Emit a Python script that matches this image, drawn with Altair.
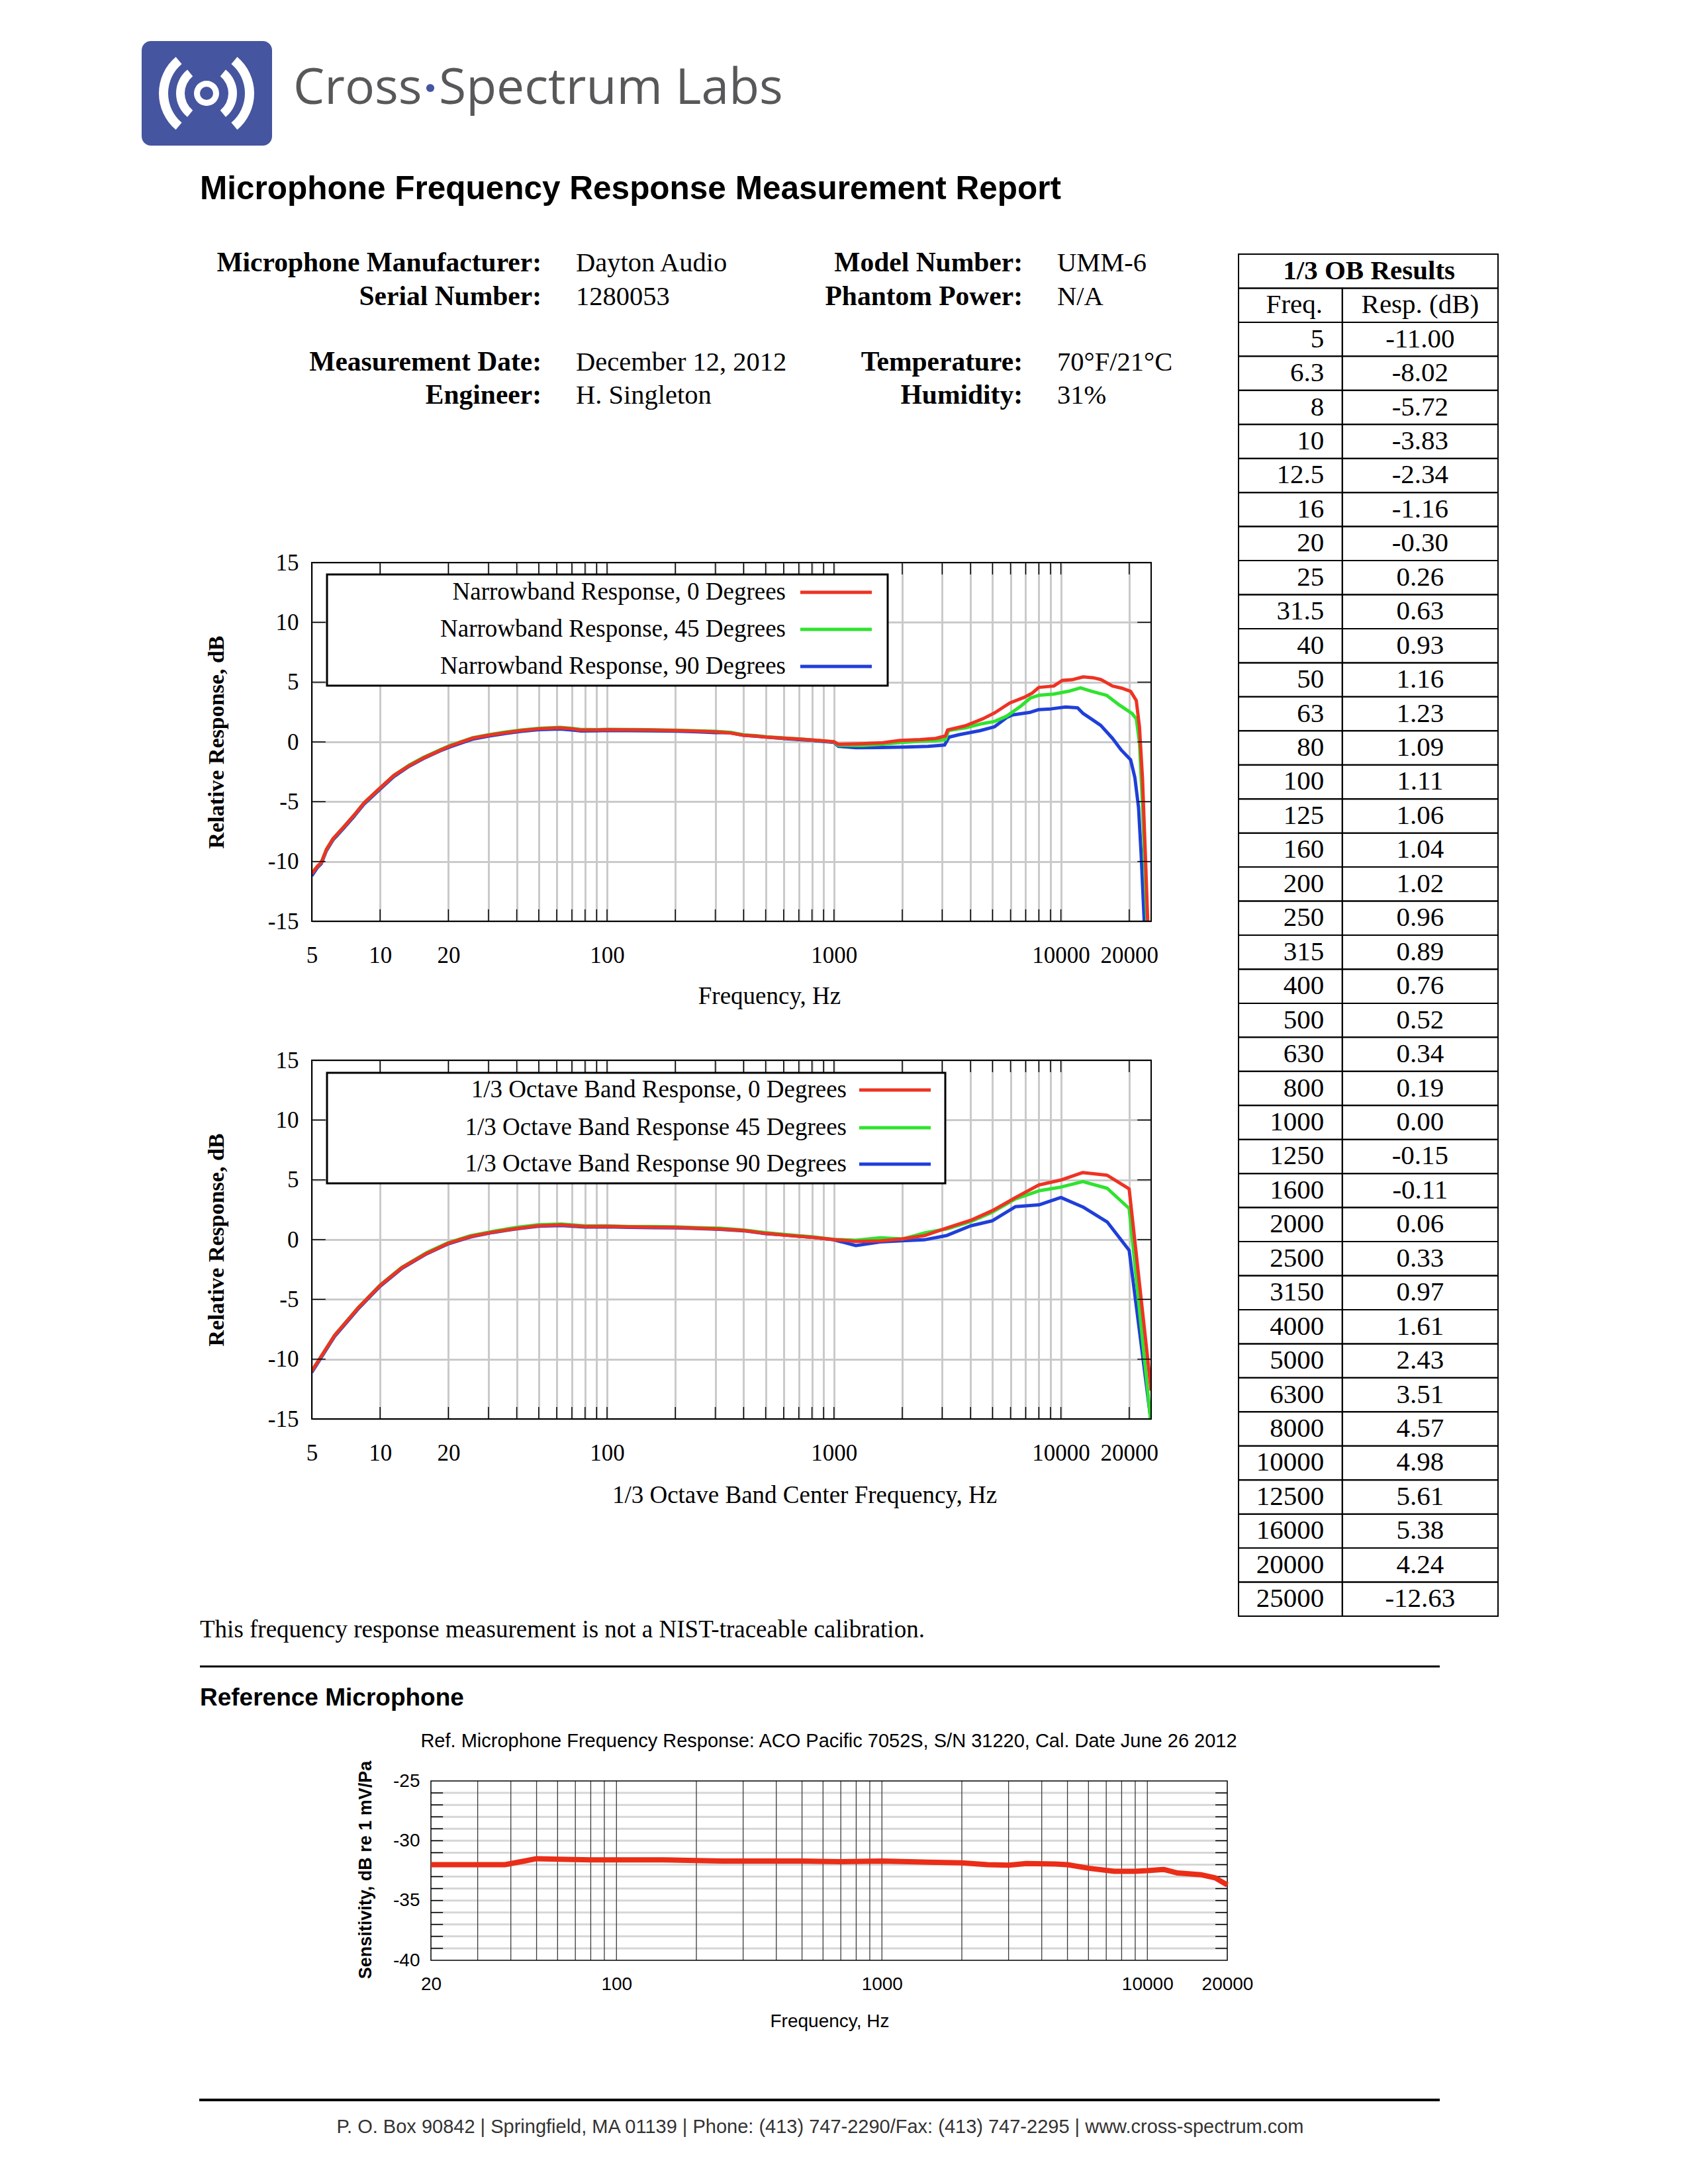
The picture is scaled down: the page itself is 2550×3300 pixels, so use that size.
import altair as alt
import pandas as pd

SERIF = "Liberation Serif"
SANS = "Liberation Sans"
RED, GREEN, BLUE = "#ee3323", "#2fe32f", "#1f3fd9"
GRID = "#cacaca"
LOGO_BLUE = "#46559f"

# ---------------- narrowband response (chart 1) ----------------
NB0_F = [5, 5.3, 5.5, 5.8, 6.2, 7, 7.7, 8.5, 10, 11.5, 13.4, 15.5, 18.4, 20.3, 25.4, 30, 35, 42, 50, 62,
         70, 76, 90, 100, 150, 200, 250, 300, 350, 400, 450, 505, 630, 705, 850, 1000, 1046, 1330, 1640, 1960,
         2400, 2810, 3100, 3170, 3790, 4530, 5100, 5950, 6900, 7500, 8000, 9300, 10180, 11200, 12550,
         14000, 15000, 16900, 18500, 20300, 21500, 22200, 22900, 23600, 24300]
NB0_DB = [-11.0, -10.4, -10.1, -9.0, -8.1, -7.0, -6.1, -5.1, -3.85, -2.8, -2.0, -1.35, -0.7, -0.35, 0.3, 0.55, 0.75, 0.95, 1.1, 1.18,
          1.1, 1.0, 1.0, 1.02, 1.0, 0.95, 0.9, 0.85, 0.75, 0.55, 0.5, 0.4, 0.29, 0.23, 0.12, 0.02, -0.2, -0.15, -0.07, 0.13,
          0.2, 0.29, 0.5, 1.0, 1.34, 1.93, 2.42, 3.25, 3.73, 4.1, 4.56, 4.67, 5.15, 5.2, 5.44,
          5.35, 5.22, 4.67, 4.5, 4.23, 3.46, 1.27, -3.1, -9.7, -16.5]

NB45_F = [5, 5.3, 5.5, 5.8, 6.2, 7, 7.7, 8.5, 10, 11.5, 13.4, 15.5, 18.4, 20.3, 25.4, 30, 35, 42, 50, 62,
          70, 76, 90, 100, 150, 200, 250, 300, 350, 400, 450, 505, 630, 705, 850, 1000, 1046, 1330, 1640, 1960,
          2400, 2810, 3100, 3200, 3790, 4530, 5100, 5770, 6700, 7350, 8000, 9300, 10800, 12200, 13700,
          15900, 17900, 20600, 21500, 22200, 22900, 23600, 24300]
NB45_DB = [-11.0, -10.4, -10.1, -9.0, -8.1, -7.0, -6.1, -5.1, -3.85, -2.8, -1.95, -1.3, -0.65, -0.3, 0.33, 0.6, 0.8, 1.0, 1.13, 1.22,
           1.14, 1.05, 1.03, 1.05, 1.03, 0.98, 0.93, 0.88, 0.8, 0.6, 0.53, 0.43, 0.31, 0.25, 0.13, 0.0, -0.28, -0.3, -0.2, -0.05,
           0.05, 0.1, 0.2, 0.95, 1.17, 1.54, 1.71, 2.15, 3.03, 3.68, 3.9, 4.0, 4.23, 4.52, 4.23,
           3.9, 3.15, 2.37, 1.93, -0.04, -5.3, -11.9, -18.0]

NB90_F = [5, 5.3, 5.5, 5.8, 6.2, 7, 7.7, 8.5, 10, 11.5, 13.4, 15.5, 18.4, 20.3, 25.4, 30, 35, 42, 50, 62,
          70, 76, 90, 100, 150, 200, 250, 300, 345, 400, 466, 630, 800, 1000, 1046, 1252, 1600, 2084, 2600, 3073,
          3218, 3570, 4404, 5106, 5770, 6121, 7350, 8000, 9040, 10500, 11850, 12550, 13700, 15000, 16900,
          18500, 20300, 21200, 22000, 22600, 23300, 23800]
NB90_DB = [-11.2, -10.5, -10.2, -9.1, -8.2, -7.1, -6.2, -5.2, -3.95, -2.9, -2.05, -1.4, -0.75, -0.42, 0.22, 0.48, 0.68, 0.88, 1.02, 1.08,
           1.0, 0.92, 0.93, 0.95, 0.93, 0.9, 0.85, 0.78, 0.79, 0.55, 0.45, 0.25, 0.12, -0.04, -0.37, -0.48, -0.47, -0.43, -0.38, -0.26,
           0.4, 0.61, 0.94, 1.27, 2.04, 2.26, 2.48, 2.7, 2.76, 2.92, 2.85, 2.37, 1.89, 1.38, 0.29,
           -0.7, -1.5, -3.0, -5.5, -9.5, -15.0, -18.0]

# ---------------- 1/3 octave band results (chart 2 + table) ----------------
OB_LABELS = ["5", "6.3", "8", "10", "12.5", "16", "20", "25", "31.5", "40", "50", "63", "80", "100", "125",
             "160", "200", "250", "315", "400", "500", "630", "800", "1000", "1250", "1600", "2000", "2500",
             "3150", "4000", "5000", "6300", "8000", "10000", "12500", "16000", "20000", "25000"]
OB_FREQ = [5, 6.3, 8, 10, 12.5, 16, 20, 25, 31.5, 40, 50, 63, 80, 100, 125,
           160, 200, 250, 315, 400, 500, 630, 800, 1000, 1250, 1600, 2000, 2500,
           3150, 4000, 5000, 6300, 8000, 10000, 12500, 16000, 20000, 25000]
OB_0 = [-11.00, -8.02, -5.72, -3.83, -2.34, -1.16, -0.30, 0.26, 0.63, 0.93, 1.16, 1.23, 1.09, 1.11, 1.06,
        1.04, 1.02, 0.96, 0.89, 0.76, 0.52, 0.34, 0.19, 0.00, -0.15, -0.11, 0.06, 0.33,
        0.97, 1.61, 2.43, 3.51, 4.57, 4.98, 5.61, 5.38, 4.24, -12.63]
OB_45 = [-11.0, -8.0, -5.7, -3.8, -2.3, -1.1, -0.25, 0.32, 0.7, 1.02, 1.25, 1.3, 1.15, 1.15, 1.1,
         1.09, 1.07, 1.0, 0.95, 0.8, 0.58, 0.4, 0.24, 0.02, -0.05, 0.15, 0.05, 0.55,
         0.9, 1.5, 2.3, 3.4, 4.08, 4.39, 4.85, 4.29, 2.6, -15.5]
OB_90 = [-11.1, -8.1, -5.8, -3.9, -2.4, -1.2, -0.35, 0.22, 0.6, 0.9, 1.12, 1.18, 1.05, 1.07, 1.03,
         1.0, 0.98, 0.93, 0.86, 0.74, 0.5, 0.36, 0.2, -0.02, -0.5, -0.2, -0.1, -0.02,
         0.35, 1.15, 1.58, 2.75, 2.9, 3.52, 2.73, 1.48, -0.9, -15.3]

# ---------------- reference microphone ----------------
REF_F = [20, 30, 38, 45, 50, 60, 80, 100, 150, 200, 250, 300, 500, 700, 1000, 1500, 2000, 2500, 3000,
         3500, 4500, 5000, 6000, 7500, 9000, 10000, 11500, 13000, 16000, 18000, 20000]
REF_DB = [-32.0, -32.0, -32.0, -31.7, -31.5, -31.55, -31.6, -31.6, -31.6, -31.65, -31.7, -31.7, -31.7, -31.75, -31.7,
          -31.8, -31.85, -32.0, -32.05, -31.9, -31.95, -32.0, -32.3, -32.55, -32.55, -32.5, -32.4, -32.7, -32.85,
          -33.1, -33.7]

XGRID = [10, 20, 30, 40, 50, 60, 70, 80, 90, 100, 200, 300, 400, 500, 600, 700, 800, 900,
         1000, 2000, 3000, 4000, 5000, 6000, 7000, 8000, 9000, 10000, 20000]
XLAB = [5, 10, 20, 100, 1000, 10000, 20000]
YTICKS = [-15, -10, -5, 0, 5, 10, 15]
REF_XGRID = [30, 40, 50, 60, 70, 80, 90, 100, 200, 300, 400, 500, 600, 700, 800, 900,
             1000, 2000, 3000, 4000, 5000, 6000, 7000, 8000, 9000, 10000]
REF_XLAB = [20, 100, 1000, 10000, 20000]
REF_YLAB = [-40, -35, -30, -25]

INFO_L_LAB = ["Microphone Manufacturer:", "Serial Number:", "Measurement Date:", "Engineer:"]
INFO_L_VAL = ["Dayton Audio", "1280053", "December 12, 2012", "H. Singleton"]
INFO_R_LAB = ["Model Number:", "Phantom Power:", "Temperature:", "Humidity:"]
INFO_R_VAL = ["UMM-6", "N/A", "70°F/21°C", "31%"]

LEG1 = ["Narrowband Response, 0 Degrees", "Narrowband Response, 45 Degrees", "Narrowband Response, 90 Degrees"]
LEG2 = ["1/3 Octave Band Response, 0 Degrees", "1/3 Octave Band Response 45 Degrees", "1/3 Octave Band Response 90 Degrees"]

ONE = pd.DataFrame({"k": [0]})
PW, PH = 1268, 542


def txt(s, x, y, size, font=SERIF, weight="normal", align="left", color="black", baseline="alphabetic"):
    return alt.Chart(ONE).mark_text(text=s, font=font, fontSize=size, fontWeight=weight, align=align,
                                    baseline=baseline, color=color).encode(x=alt.value(x), y=alt.value(y))


def hline(x1, x2, y, w, color="black"):
    return alt.Chart(ONE).mark_rule(color=color, strokeWidth=w).encode(
        x=alt.value(x1), x2=alt.value(x2), y=alt.value(y))


def freq_plot(series, leg_texts, box, text_right, line_x, rows_y, x_title, title_x, title_y):
    xs = alt.Scale(type="log", domain=[5, 25000], nice=False)
    ys = alt.Scale(domain=[-15, 15], nice=False, zero=False)
    ax = alt.Axis(values=[5] + XGRID, grid=True, gridColor=GRID, gridWidth=3, ticks=False, domain=False,
                  labelExpr="indexof(%s, datum.value) >= 0 ? '' + datum.value : ''" % XLAB,
                  labelFont=SERIF, labelFontSize=35, labelPadding=34, labelOverlap=False, labelFlush=False,
                  labelBound=False, labelColor="black",
                  title=x_title, titleFont=SERIF, titleFontSize=37, titleFontWeight="normal",
                  titleX=title_x, titleY=title_y, titleAlign="center", titleBaseline="middle", titleColor="black")
    ay = alt.Axis(values=YTICKS, grid=True, gridColor=GRID, gridWidth=3, ticks=False, domain=False,
                  labelExpr="'' + datum.value", labelFont=SERIF, labelFontSize=35, labelPadding=20,
                  labelColor="black",
                  title="Relative Response, dB", titleFont=SERIF, titleFontSize=34, titleFontWeight="bold",
                  titleX=-144, titleY=PH / 2, titleAngle=270, titleAlign="center", titleBaseline="middle",
                  titleColor="black")
    X = alt.X("f:Q", scale=xs, axis=ax)
    Y = alt.Y("v:Q", scale=ys, axis=ay)

    tv = pd.DataFrame({"f": XGRID + XGRID, "v": [15] * len(XGRID) + [-15] * len(XGRID),
                       "v2": [14.0] * len(XGRID) + [-14.0] * len(XGRID)})
    inner = [-10, -5, 0, 5, 10]
    th = pd.DataFrame({"f": [5] * 5 + [21740] * 5, "f2": [5.75] * 5 + [25000] * 5, "v": inner + inner})
    border = pd.DataFrame({"f": [5], "f2": [25000], "v": [-15], "v2": [15]})

    layers = []
    for F, D, c in series:
        layers.append(alt.Chart(pd.DataFrame({"f": F, "v": D})).mark_line(
            color=c, strokeWidth=5, clip=True, strokeJoin="round").encode(x=X, y=Y))
    layers += [
        alt.Chart(tv).mark_rule(color="black", strokeWidth=1.5).encode(x=X, y=Y, y2="v2:Q"),
        alt.Chart(th).mark_rule(color="black", strokeWidth=1.5).encode(x=X, x2="f2:Q", y=Y),
        alt.Chart(border).mark_rect(fillOpacity=0, stroke="black", strokeWidth=2).encode(
            x=X, x2="f2:Q", y=Y, y2="v2:Q"),
    ]
    # legend box
    bx0, by0, bx1, by1 = box
    layers.append(alt.Chart(ONE).mark_rect(fill="white", stroke="black", strokeWidth=3).encode(
        x=alt.value(bx0), x2=alt.value(bx1), y=alt.value(by0), y2=alt.value(by1)))
    for t, yy, c in zip(leg_texts, rows_y, [RED, GREEN, BLUE]):
        layers.append(txt(t, text_right, yy, 37, align="right", baseline="middle"))
        layers.append(hline(line_x[0], line_x[1], yy, 5, c))
    return alt.layer(*layers)


# ---------------- row A: chart 1 + header + table ----------------
plot1 = freq_plot([(NB90_F, NB90_DB, BLUE), (NB45_F, NB45_DB, GREEN), (NB0_F, NB0_DB, RED)],
                  LEG1, (23, 18, 870, 186), 716, (738, 846), [45, 101, 157], "Frequency, Hz", 691, 113)

header = [hline(-462, -461, -841, 1, "white")]
header.append(alt.Chart(ONE).mark_rect(color=LOGO_BLUE, cornerRadius=14).encode(
    x=alt.value(-257), x2=alt.value(-60), y=alt.value(-788), y2=alt.value(-630)))
LCX, LCY = -159, -709
for r1, r2, a in [(72, 58, 0.87), (46, 33, 0.89)]:
    for mid in [4.7124, 1.5708]:
        header.append(alt.Chart(ONE).mark_arc(color="white", radius=r1, radius2=r2, theta=mid - a,
                                              theta2=mid + a).encode(x=alt.value(LCX), y=alt.value(LCY)))
header.append(alt.Chart(ONE).mark_arc(color="white", radius=19, radius2=10, theta=0,
                                      theta2=6.2832).encode(x=alt.value(LCX), y=alt.value(LCY)))
header.append(txt("Cross", -28, -693, 75, font="Open Sans", color="#58585a"))
header.append(txt("Spectrum Labs", 192, -693, 75, font="Open Sans", color="#58585a"))
header.append(alt.Chart(ONE).mark_circle(color=LOGO_BLUE, size=150, opacity=1).encode(
    x=alt.value(179), y=alt.value(-717)))
header.append(txt("Microphone Frequency Response Measurement Report", -169, -549, 49.5, font=SANS, weight="bold"))
for lab, val, yy in zip(INFO_L_LAB, INFO_L_VAL, [-440, -389, -290, -240]):
    header.append(txt(lab, 347, yy, 41.5, weight="bold", align="right"))
    header.append(txt(val, 399, yy, 40.5))
for lab, val, yy in zip(INFO_R_LAB, INFO_R_VAL, [-440, -389, -290, -240]):
    header.append(txt(lab, 1074, yy, 41.5, weight="bold", align="right"))
    header.append(txt(val, 1126, yy, 40.5))

# table
cells = {"x0": [0, 0, 0.4], "x1": [1, 0.4, 1], "r0": [0, 1, 1], "r1": [1, 2, 2]}
for i in range(len(OB_LABELS)):
    cells["x0"] += [0, 0.4]
    cells["x1"] += [0.4, 1]
    cells["r0"] += [2 + i, 2 + i]
    cells["r1"] += [3 + i, 3 + i]
cells_df = pd.DataFrame(cells)
TX = alt.X("x0:Q", scale=alt.Scale(domain=[0, 1], range=[1400, 1792], nice=False, zero=False), axis=None)
TY = alt.Y("r0:Q", scale=alt.Scale(domain=[0, 40], range=[-466, 1592], nice=False, zero=False), axis=None)
tbl_freq = pd.DataFrame({"x0": [0.33] * len(OB_LABELS), "r0": [2.5 + i for i in range(len(OB_LABELS))],
                         "t": OB_LABELS})
tbl_resp = pd.DataFrame({"x0": [0.70] * len(OB_0), "r0": [2.5 + i for i in range(len(OB_0))],
                         "t": ["%.2f" % v for v in OB_0]})
tbl_head = pd.DataFrame({"x0": [0.215, 0.70], "r0": [1.5, 1.5], "t": ["Freq.", "Resp. (dB)"]})
tbl_title = pd.DataFrame({"x0": [0.503], "r0": [0.5], "t": ["1/3 OB Results"]})
table = alt.layer(
    alt.Chart(cells_df).mark_rect(fillOpacity=0, stroke="black", strokeWidth=2).encode(
        x=TX, x2="x1:Q", y=TY, y2="r1:Q"),
    alt.Chart(tbl_freq).mark_text(align="right", baseline="middle", font=SERIF, fontSize=41).encode(
        x=TX, y=TY, text="t:N"),
    alt.Chart(tbl_resp).mark_text(align="center", baseline="middle", font=SERIF, fontSize=41).encode(
        x=TX, y=TY, text="t:N"),
    alt.Chart(tbl_head).mark_text(align="center", baseline="middle", font=SERIF, fontSize=41).encode(
        x=TX, y=TY, text="t:N"),
    alt.Chart(tbl_title).mark_text(align="center", baseline="middle", font=SERIF, fontSize=41,
                                   fontWeight="bold").encode(x=TX, y=TY, text="t:N"),
)

rowA = alt.layer(plot1, table, *header).resolve_scale(x="independent", y="independent").properties(
    width=PW, height=PH)

# ---------------- row B: chart 2 ----------------
plot2 = freq_plot([(OB_FREQ, OB_90, BLUE), (OB_FREQ, OB_45, GREEN), (OB_FREQ, OB_0, RED)],
                  LEG2, (23, 19, 957, 186), 808, (827, 935), [45, 102, 157],
                  "1/3 Octave Band Center Frequency, Hz", 744, 115)
rowB = plot2.properties(width=PW, height=PH)

# ---------------- row C: reference microphone ----------------
xs_ref = alt.Scale(type="log", domain=[20, 20000], range=[180, 1383], nice=False)
ys_ref = alt.Scale(domain=[-40, -25], range=[608, 337], nice=False, zero=False)
AXR = alt.Axis(values=REF_XLAB, grid=False, ticks=False, domain=False, labelExpr="'' + datum.value",
               labelFont=SANS, labelFontSize=28, labelPadding=22, labelOverlap=False, labelFlush=False,
               labelColor="black", title="Frequency, Hz", titleFont=SANS, titleFontSize=28,
               titleFontWeight="normal", titleX=782, titleY=92, titleAlign="center", titleBaseline="middle",
               titleColor="black")
AYR = alt.Axis(values=REF_YLAB, grid=False, ticks=False, domain=False, offset=-180,
               labelExpr="'' + datum.value", labelFont=SANS, labelFontSize=28, labelPadding=17,
               labelColor="black", title="Sensitivity, dB re 1 mV/Pa", titleFont=SANS, titleFontSize=27,
               titleFontWeight="bold", titleX=-99, titleY=471, titleAngle=270, titleAlign="center",
               titleBaseline="middle", titleColor="black")
XR = alt.X("f:Q", scale=xs_ref, axis=AXR)
YR = alt.Y("v:Q", scale=ys_ref, axis=AYR)
hv = list(range(-39, -25))
ref_hgrid = pd.DataFrame({"f": [20] * len(hv), "f2": [20000] * len(hv), "v": hv})
ref_vgrid = pd.DataFrame({"f": REF_XGRID, "v": [-40] * len(REF_XGRID), "v2": [-25] * len(REF_XGRID)})
ref_ticks = pd.DataFrame({"f": [20] * len(hv) + [18040] * len(hv), "f2": [22.2] * len(hv) + [20000] * len(hv),
                          "v": hv + hv})
ref_border = pd.DataFrame({"f": [20], "f2": [20000], "v": [-40], "v2": [-25]})
ref_curve = pd.DataFrame({"f": REF_F, "v": REF_DB})

rowC_layers = [
    alt.Chart(ref_hgrid).mark_rule(color="#d6d6d6", strokeWidth=3).encode(x=XR, x2="f2:Q", y=YR),
    alt.Chart(ref_vgrid).mark_rule(color="#3a3a3a", strokeWidth=1.3).encode(x=XR, y=YR, y2="v2:Q"),
    alt.Chart(ref_ticks).mark_rule(color="black", strokeWidth=1.5).encode(x=XR, x2="f2:Q", y=YR),
    alt.Chart(ref_border).mark_rect(fillOpacity=0, stroke="black", strokeWidth=1.5).encode(
        x=XR, x2="f2:Q", y=YR, y2="v2:Q"),
    alt.Chart(ref_curve).mark_line(color="#eb2d17", strokeWidth=8, strokeJoin="round").encode(x=XR, y=YR),
    txt("Ref. Microphone Frequency Response: ACO Pacific 7052S, S/N 31220, Cal. Date June 26 2012",
        781, 277, 29, font=SANS, align="center", baseline="middle"),
    txt("This frequency response measurement is not a NIST-traceable calibration.", -169, 120, 37),
    hline(-169, 1704, 164, 3),
    txt("Reference Microphone", -169, 223, 37, font=SANS, weight="bold"),
    hline(-170, 1704, 819, 4),
    txt("P. O. Box 90842 | Springfield, MA 01139 | Phone: (413) 747-2290/Fax: (413) 747-2295 | www.cross-spectrum.com",
        768, 869, 29, font=SANS, align="center", color="#333333"),
]
rowC = alt.layer(*rowC_layers).properties(width=1383, height=608)

chart = alt.vconcat(rowA, rowB, rowC, spacing=210, bounds="flush").configure_view(
    strokeWidth=0).properties(padding=0, background="white")

chart.save("out.html", embed_options={"renderer": "svg", "actions": False})
